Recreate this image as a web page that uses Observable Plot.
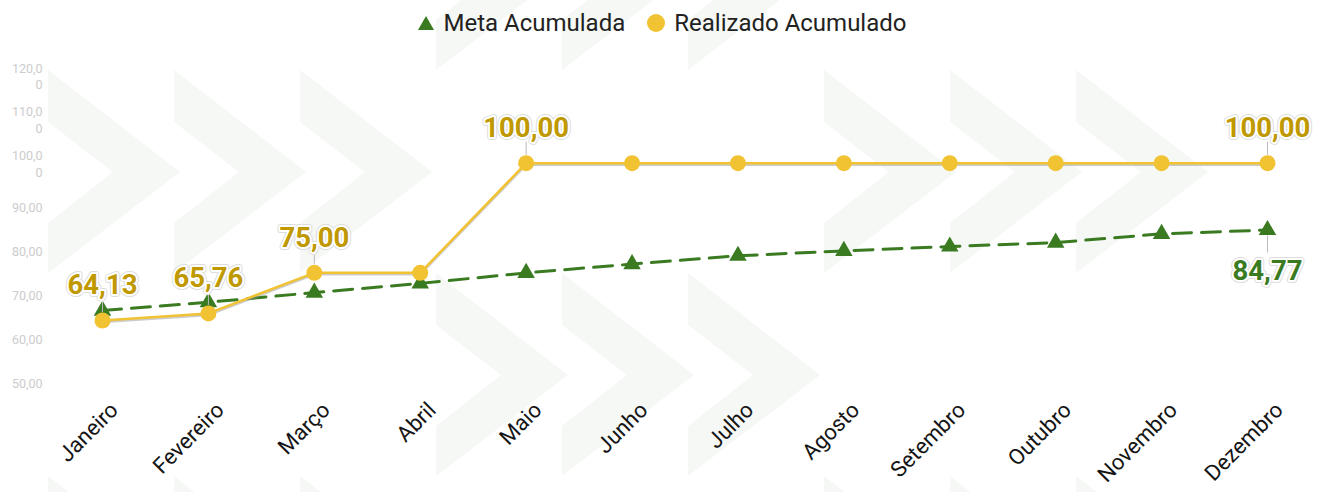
<!DOCTYPE html>
<html><head><meta charset="utf-8">
<script src="https://cdn.jsdelivr.net/npm/d3@7"></script>
<script src="https://cdn.jsdelivr.net/npm/@observablehq/plot@0.6"></script>
<style>
body{margin:0;background:#fff;font-family:Roboto,sans-serif;}
#wrap{position:relative;width:1321px;height:492px;overflow:hidden;}
#bg{position:absolute;left:0;top:0;}
#legend{position:relative;height:45px;display:flex;justify-content:center;align-items:center;font-size:24px;color:#222;padding-left:2px;}
#legend .item{display:flex;align-items:center;margin:0 11px;}
#legend svg{margin-right:9px;}
#chart{position:relative;}
</style></head>
<body><div id="wrap"><svg id="bg" width="1321" height="492"></svg><div id="legend"></div><div id="chart"></div></div>
<script>
// ---- data ----
const months = ["Janeiro","Fevereiro","Março","Abril","Maio","Junho","Julho","Agosto","Setembro","Outubro","Novembro","Dezembro"];
const meta = [66.4, 68.3, 70.5, 72.6, 75.0, 77.0, 78.9, 80.0, 81.0, 81.9, 83.9, 84.77];
const realizado = [64.13, 65.76, 75.00, 75.00, 100, 100, 100, 100, 100, 100, 100, 100];
const realizadoLabeled = ["Janeiro","Fevereiro","Março","Maio","Dezembro"];
const metaLabeled = ["Dezembro"];
const yTicks = [50, 60, 70, 80, 90, 100, 110, 120];
const seriesNames = ["Meta Acumulada", "Realizado Acumulado"];

// ---- colours ----
const GREEN = "#3a7b22", YELLOW = "#f1c232", GOLD = "#c09800";

// ---- decorative chevron background ----
const bg = d3.select("#bg");
const groups = [[48,70],[824,70],[436,-133],[436,273],[48,476],[824,476]];
groups.forEach(([gx,gy]) => {
  [0,126,252].forEach(o => {
    const x0 = gx + o, y0 = gy;
    const pts = [[0,0],[132,102],[0,203],[0,153],[65,102],[0,52]].map(([a,b]) => [x0+a, y0+b].join(",")).join(" ");
    bg.append("polygon").attr("points", pts).attr("fill", "#f5f8f4");
  });
});

// ---- legend ----
const legend = d3.select("#legend");
const l1 = legend.append("div").attr("class","item");
l1.append("svg").attr("width",18).attr("height",16).append("polygon").attr("points","9,1 17,15 1,15").attr("fill",GREEN);
l1.append("span").text(seriesNames[0]);
const l2 = legend.append("div").attr("class","item");
l2.append("svg").attr("width",18).attr("height",18).append("circle").attr("cx",9).attr("cy",9).attr("r",9).attr("fill",YELLOW);
l2.append("span").text(seriesNames[1]);

// ---- chart ----
const fmt = v => v.toFixed(2).replace(".", ",");
const yFmt = v => { const s = fmt(v); return s.length > 5 ? s.slice(0,5) + "\n" + s.slice(5) : s; };
const data = months.map((m,i) => ({month:m, meta:meta[i], realizado:realizado[i]}));
const realLab = data.filter(d => realizadoLabeled.includes(d.month));
const metaLab = data.filter(d => metaLabeled.includes(d.month));

const chart = Plot.plot({
  width: 1321, height: 447,
  marginTop: 30, marginBottom: 110, marginLeft: 102, marginRight: 54,
  style: {fontFamily: "Roboto, sans-serif", background: "transparent", overflow: "visible"},
  x: {type: "point", domain: months, padding: 0, round: false, axis: null},
  y: {domain: [50, 120], axis: null},
  marks: [
    Plot.axisY({ticks: yTicks, tickFormat: yFmt, tickSize: 0, tickPadding: 60, fontSize: 12.5, color: "#cccccc", lineHeight: 1.3}),
    Plot.text(months, {x: d => d, frameAnchor: "bottom", rotate: -45, textAnchor: "end", lineAnchor: "middle", dx: 12, dy: 24, fontSize: 22, fill: "#151515"}),
    Plot.line(data, {x: "month", y: "meta", stroke: GREEN, strokeWidth: 3, strokeDasharray: "19,10"}),
    Plot.dot(data, {x: "month", y: "meta", symbol: "triangle", r: 6.5, fill: GREEN}),
    Plot.line(data, {x: "month", y: "realizado", stroke: "#999", strokeOpacity: 0.5, strokeWidth: 2.5, dy: 1.5}),
    Plot.line(data, {x: "month", y: "realizado", stroke: YELLOW, strokeWidth: 2.5}),
    Plot.dot(data, {x: "month", y: "realizado", r: 8, fill: YELLOW}),
    Plot.ruleX(realLab, {x: "month", y1: "realizado", y2: "realizado", insetTop: -21, insetBottom: 8, stroke: "#bbb", strokeWidth: 1}),
    Plot.ruleX(metaLab, {x: "month", y1: "meta", y2: "meta", insetTop: 6, insetBottom: -23, stroke: "#bbb", strokeWidth: 1}),
    Plot.text(realLab, {x: "month", y: "realizado", text: d => fmt(d.realizado), dy: -35, fontSize: 27.5, fontWeight: "bold", fill: "none", stroke: "#ddd", strokeWidth: 6}),
    Plot.text(realLab, {x: "month", y: "realizado", text: d => fmt(d.realizado), dy: -35, fontSize: 27.5, fontWeight: "bold", fill: GOLD, stroke: "white", strokeWidth: 4}),
    Plot.text(metaLab, {x: "month", y: "meta", text: d => fmt(d.meta), dy: 41, fontSize: 27.5, fontWeight: "bold", fill: "none", stroke: "#ddd", strokeWidth: 6}),
    Plot.text(metaLab, {x: "month", y: "meta", text: d => fmt(d.meta), dy: 41, fontSize: 27.5, fontWeight: "bold", fill: GREEN, stroke: "white", strokeWidth: 4})
  ]
});
document.getElementById("chart").append(chart);
</script>
</body></html>
